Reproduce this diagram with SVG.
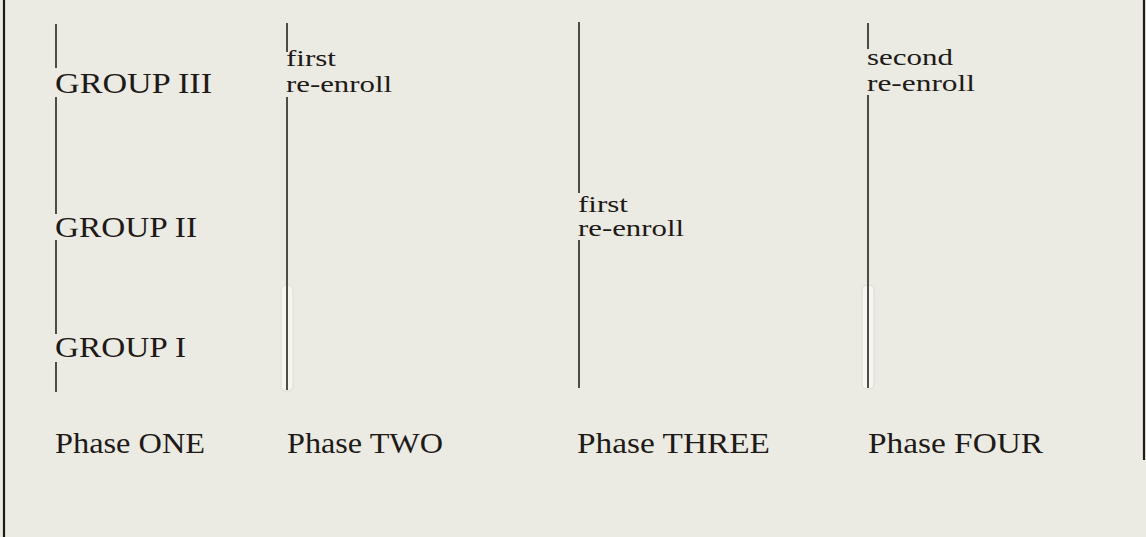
<svg xmlns="http://www.w3.org/2000/svg" width="1146" height="537" viewBox="0 0 1146 537">
  <style>
    .bg { fill: #ebeae3; }
    .ln { stroke: #2a2220; stroke-width: 1.6; fill: none; }
    .bd { stroke: #1e1a18; stroke-width: 2.2; fill: none; }
    .halo { fill: #f6f6f1; stroke: #dcdcd5; stroke-width: 1; }
    .lbl { font-family: "Liberation Serif", "Times New Roman", serif; font-size: 30px; fill: #1e1a18; }
    .note { font-family: "Liberation Serif", "Times New Roman", serif; font-size: 24px; fill: #1e1a18; }
  </style>
  <rect class="bg" x="0" y="0" width="1146" height="537"/>
  <g id="frame">
    <line class="bd" x1="4" y1="0" x2="4" y2="537"/>
    <line class="bd" x1="1144" y1="0" x2="1144" y2="460"/>
  </g>
  <g id="connectors">
    <rect class="halo" x="281" y="285" width="12" height="106" rx="5"/>
    <rect class="halo" x="862" y="285" width="12" height="104" rx="5"/>
    <line class="ln" x1="56" y1="24" x2="56" y2="68"/>
    <line class="ln" x1="56" y1="97" x2="56" y2="214"/>
    <line class="ln" x1="56" y1="240" x2="56" y2="334"/>
    <line class="ln" x1="56" y1="362" x2="56" y2="392"/>
    <line class="ln" x1="287" y1="23" x2="287" y2="52"/>
    <line class="ln" x1="287" y1="97" x2="287" y2="390"/>
    <line class="ln" x1="579" y1="22" x2="579" y2="193"/>
    <line class="ln" x1="579" y1="240" x2="579" y2="388"/>
    <line class="ln" x1="868" y1="23" x2="868" y2="49"/>
    <line class="ln" x1="868" y1="95" x2="868" y2="388"/>
  </g>
  <g id="group3"><text class="lbl" x="55" y="93" textLength="157" lengthAdjust="spacingAndGlyphs">GROUP III</text></g>
  <g id="group2"><text class="lbl" x="55" y="237" textLength="142" lengthAdjust="spacingAndGlyphs">GROUP II</text></g>
  <g id="group1"><text class="lbl" x="55" y="357" textLength="131" lengthAdjust="spacingAndGlyphs">GROUP I</text></g>
  <g id="note-two">
    <text class="note" x="286" y="66" textLength="50" lengthAdjust="spacingAndGlyphs">first</text>
    <text class="note" x="286" y="92" textLength="106" lengthAdjust="spacingAndGlyphs">re-enroll</text>
  </g>
  <g id="note-three">
    <text class="note" x="578" y="212" textLength="50" lengthAdjust="spacingAndGlyphs">first</text>
    <text class="note" x="578" y="236" textLength="106" lengthAdjust="spacingAndGlyphs">re-enroll</text>
  </g>
  <g id="note-four">
    <text class="note" x="867" y="65" textLength="86" lengthAdjust="spacingAndGlyphs">second</text>
    <text class="note" x="867" y="91" textLength="108" lengthAdjust="spacingAndGlyphs">re-enroll</text>
  </g>
  <g id="phase1"><text class="lbl" x="55" y="453" textLength="150" lengthAdjust="spacingAndGlyphs">Phase ONE</text></g>
  <g id="phase2"><text class="lbl" x="287" y="453" textLength="156" lengthAdjust="spacingAndGlyphs">Phase TWO</text></g>
  <g id="phase3"><text class="lbl" x="577" y="453" textLength="193" lengthAdjust="spacingAndGlyphs">Phase THREE</text></g>
  <g id="phase4"><text class="lbl" x="868" y="453" textLength="175" lengthAdjust="spacingAndGlyphs">Phase FOUR</text></g>
</svg>
